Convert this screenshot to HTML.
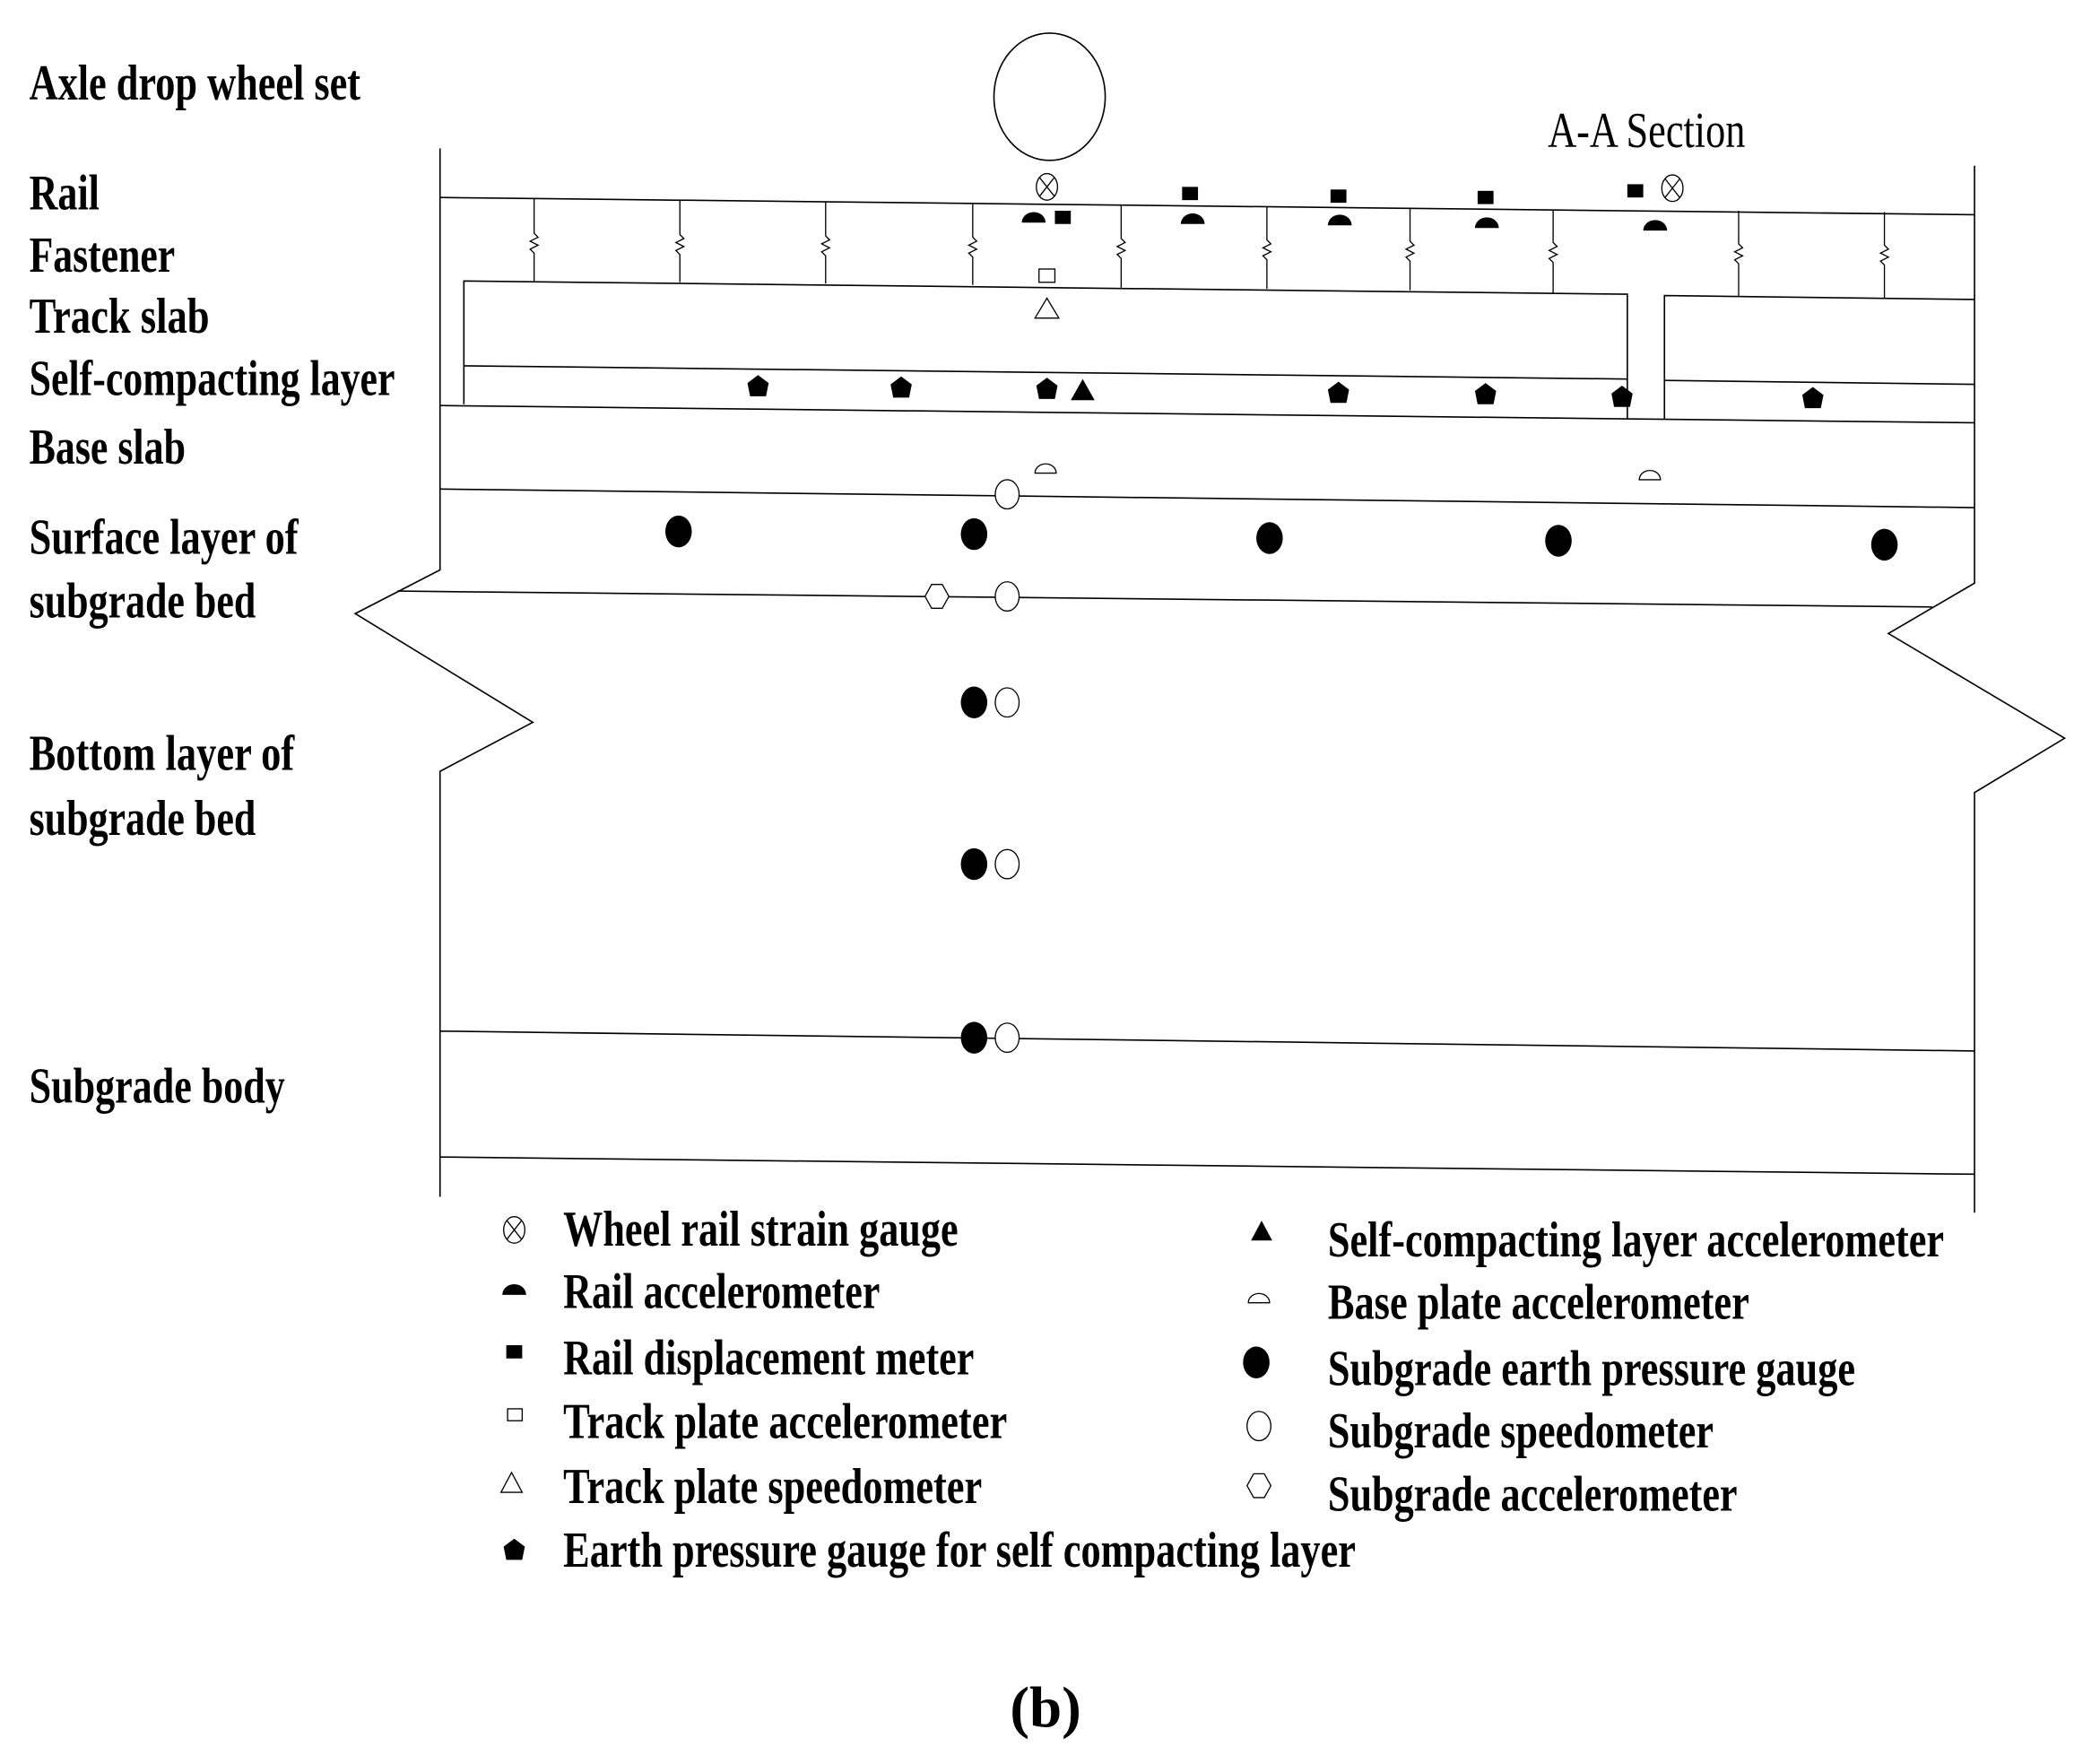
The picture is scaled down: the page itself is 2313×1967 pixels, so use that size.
<!DOCTYPE html>
<html><head><meta charset="utf-8"><style>
html,body{margin:0;padding:0;background:#fff;}
svg{display:block;}
.b{font-family:"Liberation Serif",serif;font-weight:bold;font-size:38px;fill:#000;}
.r{font-family:"Liberation Serif",serif;font-size:38px;fill:#000;}
</style></head><body>
<svg width="2313" height="1967" viewBox="0 0 1565 1331" xmlns="http://www.w3.org/2000/svg">
<rect width="1565" height="1331" fill="#fff"/>
<g stroke="#000" stroke-width="1.1" fill="none">
<!-- borders -->
<polyline points="332,112 332,430 268,463 402,545 332,582 332,903"/>
<polyline points="1490,125 1490,440 1425,478 1558,557 1490,598 1490,915"/>
<!-- layers -->
<line x1="332" y1="149" x2="1490" y2="162"/>
<polyline points="350,305 350,212 1228,222 1228,316"/>
<polyline points="1256,316 1256,223 1490,226"/>
<line x1="350" y1="276" x2="1228" y2="286"/>
<line x1="1256" y1="287" x2="1490" y2="290"/>
<line x1="332" y1="306" x2="1490" y2="319"/>
<line x1="332" y1="369" x2="1490" y2="383"/>
<line x1="300" y1="446" x2="1458" y2="458"/>
<line x1="332" y1="778" x2="1490" y2="793"/>
<line x1="332" y1="873" x2="1490" y2="886"/>
<!-- wheel -->
<ellipse cx="792" cy="73" rx="42" ry="48"/>
</g>
<!-- fasteners -->
<g stroke="#000" stroke-width="0.9" fill="none">
<path d="M403,150 V176 l3,3 -6,3 6,3 -6,3 3,3 V212"/>
<path d="M513,151 V177 l3,3 -6,3 6,3 -6,3 3,3 V213"/>
<path d="M623,152 V178 l3,3 -6,3 6,3 -6,3 3,3 V214"/>
<path d="M734,153 V179 l3,3 -6,3 6,3 -6,3 3,3 V215"/>
<path d="M846,155 V180 l3,3 -6,3 6,3 -6,3 3,3 V217"/>
<path d="M956,156 V181 l3,3 -6,3 6,3 -6,3 3,3 V218"/>
<path d="M1064,157 V182 l3,3 -6,3 6,3 -6,3 3,3 V219"/>
<path d="M1172,158 V183 l3,3 -6,3 6,3 -6,3 3,3 V221"/>
<path d="M1312,159 V184 l3,3 -6,3 6,3 -6,3 3,3 V224"/>
<path d="M1422,160 V185 l3,3 -6,3 6,3 -6,3 3,3 V225"/>
</g>
<defs>
<g id="x"><ellipse cx="0" cy="0" rx="8" ry="10" fill="#fff" stroke="#000" stroke-width="0.9"/><path d="M-5.5,-7 L5.5,7 M5.5,-7 L-5.5,7" stroke="#000" stroke-width="0.9"/></g>
<path id="ha" d="M-9,4 A9,8 0 0 1 9,4 Z" fill="#000"/>
<path id="hb" d="M-8,3 A8,7 0 0 1 8,3 Z" fill="#fff" stroke="#000" stroke-width="0.9"/>
<rect id="sq" x="-6" y="-5" width="12" height="10" fill="#000"/>
<path id="pe" d="M0,-8 L8,-2 L6,8 L-6,8 L-8,-2 Z" fill="#000"/>
<ellipse id="fc" cx="0" cy="0" rx="10" ry="12" fill="#000"/>
<ellipse id="oc" cx="0" cy="0" rx="9" ry="11" fill="#fff" stroke="#000" stroke-width="0.9"/>
<path id="hx" d="M-4,-9 L4,-9 L9,0 L4,9 L-4,9 L-9,0 Z" fill="#fff" stroke="#000" stroke-width="0.9"/>
</defs>
<use href="#x" x="790" y="141"/><use href="#x" x="1262" y="142"/>
<use href="#sq" x="898" y="146"/><use href="#sq" x="1010" y="148"/><use href="#sq" x="1121" y="149"/><use href="#sq" x="1234" y="144"/><use href="#sq" x="802" y="164"/>
<use href="#ha" x="780" y="164"/><use href="#ha" x="900" y="165"/><use href="#ha" x="1011" y="166"/><use href="#ha" x="1122" y="168"/><use href="#ha" x="1249" y="170"/>
<rect x="784" y="203" width="12" height="10" fill="#fff" stroke="#000" stroke-width="0.9"/>
<path d="M790,225 L799,240 L781,240 Z" fill="#fff" stroke="#000" stroke-width="0.9"/>
<use href="#pe" x="572" y="291"/><use href="#pe" x="680" y="292"/><use href="#pe" x="790" y="293"/><use href="#pe" x="1010" y="296"/><use href="#pe" x="1121" y="297"/><use href="#pe" x="1224" y="299"/><use href="#pe" x="1368" y="300"/>
<path d="M817,286 L826,302 L808,302 Z" fill="#000"/>
<use href="#hb" x="789" y="354"/><use href="#hb" x="1245" y="359"/>
<use href="#fc" x="512" y="401"/><use href="#fc" x="735" y="403"/><use href="#fc" x="958" y="406"/><use href="#fc" x="1176" y="408"/><use href="#fc" x="1422" y="411"/>
<use href="#fc" x="735" y="530"/><use href="#fc" x="735" y="652"/><use href="#fc" x="735" y="783"/>
<use href="#oc" x="760" y="373"/><use href="#oc" x="760" y="450"/><use href="#oc" x="760" y="530"/><use href="#oc" x="760" y="652"/><use href="#oc" x="760" y="783"/>
<use href="#hx" x="707" y="450"/>
<!-- labels -->
<text class="b" x="22" y="75" textLength="250" lengthAdjust="spacingAndGlyphs">Axle drop wheel set</text>
<text class="b" x="22" y="158" textLength="53" lengthAdjust="spacingAndGlyphs">Rail</text>
<text class="b" x="22" y="205" textLength="110" lengthAdjust="spacingAndGlyphs">Fastener</text>
<text class="b" x="22" y="251" textLength="136" lengthAdjust="spacingAndGlyphs">Track slab</text>
<text class="b" x="22" y="298" textLength="276" lengthAdjust="spacingAndGlyphs">Self-compacting layer</text>
<text class="b" x="22" y="350" textLength="118" lengthAdjust="spacingAndGlyphs">Base slab</text>
<text class="b" x="22" y="418" textLength="203" lengthAdjust="spacingAndGlyphs">Surface layer of</text>
<text class="b" x="22" y="466" textLength="171" lengthAdjust="spacingAndGlyphs">subgrade bed</text>
<text class="b" x="22" y="581" textLength="200" lengthAdjust="spacingAndGlyphs">Bottom layer of</text>
<text class="b" x="22" y="630" textLength="171" lengthAdjust="spacingAndGlyphs">subgrade bed</text>
<text class="b" x="22" y="832" textLength="193" lengthAdjust="spacingAndGlyphs">Subgrade body</text>
<text class="r" x="1168" y="111" textLength="149" lengthAdjust="spacingAndGlyphs">A-A Section</text>
<!-- legend symbols -->
<use href="#x" x="388" y="928"/>
<use href="#ha" x="388" y="973"/>
<use href="#sq" x="388" y="1020"/>
<rect x="383" y="1063" width="11" height="9" fill="#fff" stroke="#000" stroke-width="0.9"/>
<path d="M386,1111 L394,1126 L378,1126 Z" fill="#fff" stroke="#000" stroke-width="0.9"/>
<use href="#pe" x="388" y="1169"/>
<path d="M952,921 L960,936 L944,936 Z" fill="#000"/>
<use href="#hb" x="950" y="980"/>
<use href="#fc" x="948" y="1028"/>
<use href="#oc" x="950" y="1076"/>
<use href="#hx" x="950" y="1121"/>
<text class="b" x="425" y="940" textLength="298" lengthAdjust="spacingAndGlyphs">Wheel rail strain gauge</text>
<text class="b" x="425" y="987" textLength="239" lengthAdjust="spacingAndGlyphs">Rail accelerometer</text>
<text class="b" x="425" y="1037" textLength="310" lengthAdjust="spacingAndGlyphs">Rail displacement meter</text>
<text class="b" x="425" y="1085" textLength="335" lengthAdjust="spacingAndGlyphs">Track plate accelerometer</text>
<text class="b" x="425" y="1134" textLength="316" lengthAdjust="spacingAndGlyphs">Track plate speedometer</text>
<text class="b" x="425" y="1182" textLength="598" lengthAdjust="spacingAndGlyphs">Earth pressure gauge for self compacting layer</text>
<text class="b" x="1002" y="948" textLength="465" lengthAdjust="spacingAndGlyphs">Self-compacting layer accelerometer</text>
<text class="b" x="1002" y="995" textLength="318" lengthAdjust="spacingAndGlyphs">Base plate accelerometer</text>
<text class="b" x="1002" y="1045" textLength="398" lengthAdjust="spacingAndGlyphs">Subgrade earth pressure gauge</text>
<text class="b" x="1002" y="1092" textLength="291" lengthAdjust="spacingAndGlyphs">Subgrade speedometer</text>
<text class="b" x="1002" y="1140" textLength="309" lengthAdjust="spacingAndGlyphs">Subgrade accelerometer</text>
<text class="b" x="789" y="1303" text-anchor="middle" style="font-size:44px">(b)</text>
</svg>
</body></html>
